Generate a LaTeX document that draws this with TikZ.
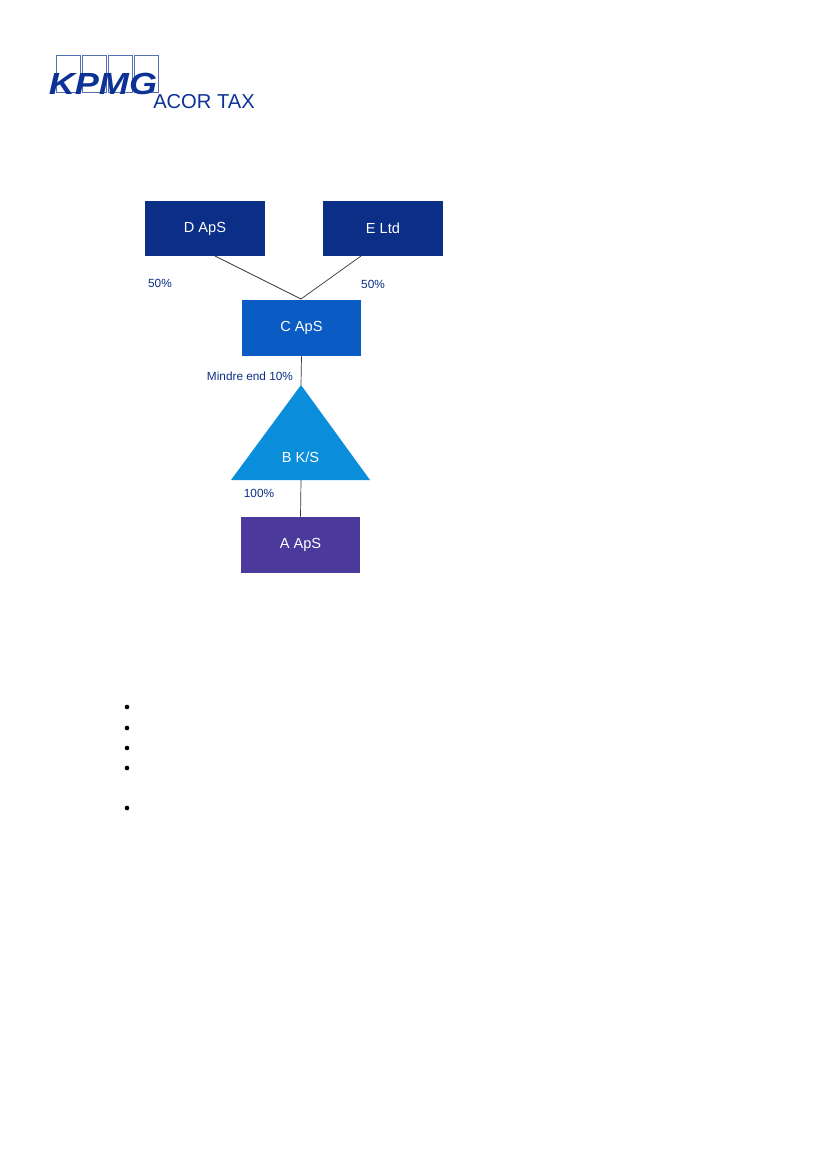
\documentclass[tikz,border=0pt]{standalone}
\usepackage{fontspec}
\setmainfont{Liberation Sans}
\definecolor{navy}{RGB}{11,47,135}
\definecolor{cblue}{RGB}{10,91,196}
\definecolor{bblue}{RGB}{10,141,219}
\definecolor{apurple}{RGB}{75,58,155}
\definecolor{logoblue}{RGB}{12,50,150}
\tikzset{every picture/.style={line width=0.75pt}}
\tikzset{
  company/.style={draw=none,minimum width=86pt,minimum height=40pt,text=white,font=\fontsize{10.5}{12}\selectfont},
  share/.style={text=navy,font=\fontsize{8.5}{10}\selectfont},
  owns/.style={line width=0.5pt,black!80}
}
\begin{document}
\begin{tikzpicture}[x=0.7197pt,y=0.7197pt,yscale=-1,xscale=1]
\useasboundingbox[fill=white] (0,0) rectangle (827,1169);

% logo
\foreach \i in {0,1,2,3}
  \draw[logoblue!70,line width=0.6pt] (56+26*\i,55) rectangle (80+26*\i,92);
\node (kpmg) at (103,84) [text=logoblue,xscale=1.18,font=\fontsize{22}{24}\selectfont\bfseries\itshape] {KPMG};
\node (acor) at (204,102) [text=logoblue,font=\fontsize{14.5}{16}\selectfont] {ACOR TAX};

% companies
\node (d) at (205,228.5) [company,fill=navy] {D ApS};
\node (e) at (383,228.5) [company,fill=navy] {E Ltd};
\node (c) at (301.5,328) [company,fill=cblue] {C ApS};
\coordinate (apex) at (301,385);
\coordinate (base) at (301,480);
\fill[bblue] (apex) -- (370,480) -- (231,480) -- cycle;
\node (b) at (300.5,457) [text=white,font=\fontsize{10.5}{12}\selectfont] {B K/S};
\node (a) at (300.5,545) [company,fill=apurple] {A ApS};

% ownership lines
\coordinate (top) at (301,299);
\draw[owns] (215,256) -- (top);
\draw[owns] (361,256) -- (top);
\draw[owns] (c.south) -- (apex);
\draw[owns] (base) -- (a.north);

% shares
\node (s1) at (160,283) [share] {50\%};
\node (s2) at (373,284) [share] {50\%};
\node (s3) at (250,376) [share] {Mindre end 10\%};
\node (s4) at (259,493) [share] {100\%};

% bullets
\foreach \y in {707,728,748,768,808}
  \fill (127,\y) circle (2.3);
\end{tikzpicture}
\end{document}
